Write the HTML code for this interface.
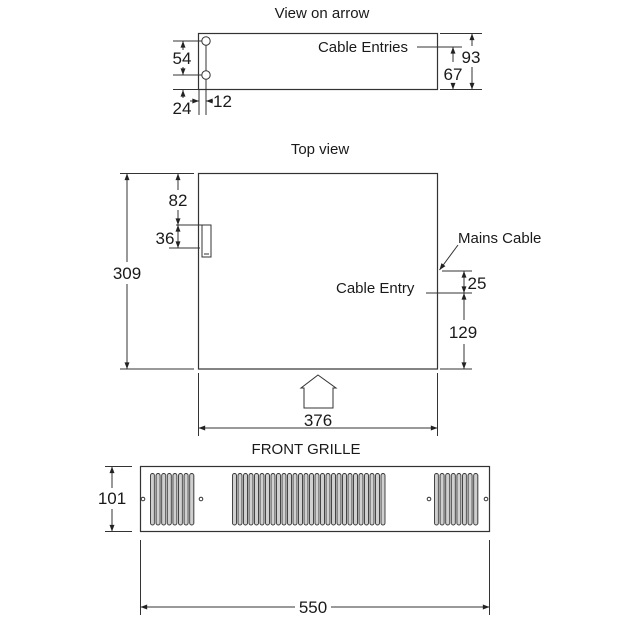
<!DOCTYPE html>
<html>
<head>
<meta charset="utf-8">
<style>
  html,body{margin:0;padding:0;background:#fff;}
  svg{display:block;}
  text{font-family:"Liberation Sans",Arial,sans-serif;fill:#1a1a1a;}
  .lbl{font-size:15px;}
  .num{font-size:17px;}
</style>
</head>
<body>
<svg width="643" height="643" viewBox="0 0 643 643" xmlns="http://www.w3.org/2000/svg">
  <defs>
    <marker id="ae" viewBox="0 0 8 6" refX="8" refY="3" markerWidth="7" markerHeight="5" markerUnits="userSpaceOnUse" orient="auto">
      <path d="M0,0 L8,3 L0,6 z" fill="#222"/>
    </marker>
    <pattern id="slotA" patternUnits="userSpaceOnUse" x="150" y="473" width="5.6" height="53">
      <rect x="0.5" y="0.5" width="4" height="51.5" rx="2" fill="#d0d0d0" stroke="#333" stroke-width="0.9"/>
    </pattern>
    <pattern id="slotB" patternUnits="userSpaceOnUse" x="232" y="473" width="5.5" height="53">
      <rect x="0.5" y="0.5" width="4" height="51.5" rx="2" fill="#d0d0d0" stroke="#333" stroke-width="0.9"/>
    </pattern>
    <pattern id="slotC" patternUnits="userSpaceOnUse" x="434" y="473" width="5.6" height="53">
      <rect x="0.5" y="0.5" width="4" height="51.5" rx="2" fill="#d0d0d0" stroke="#333" stroke-width="0.9"/>
    </pattern>
  </defs>
  <rect width="643" height="643" fill="#fff"/>

  <g stroke="#333" stroke-width="1" fill="none">
    <!-- View on arrow -->
    <rect x="198.5" y="33.5" width="239" height="56" stroke-width="1.2"/>
    <circle cx="206" cy="41" r="4.2"/>
    <circle cx="206" cy="75" r="4.2"/>
    <line x1="206" y1="45" x2="206" y2="71"/>
    <line x1="206" y1="79" x2="206" y2="115"/>
    <line x1="199" y1="90" x2="199" y2="115"/>
    <line x1="173" y1="41" x2="202" y2="41"/>
    <line x1="173" y1="75" x2="202" y2="75"/>
    <line x1="183" y1="50" x2="183" y2="41" marker-end="url(#ae)"/>
    <line x1="183" y1="67" x2="183" y2="75" marker-end="url(#ae)"/>
    <line x1="173" y1="89.5" x2="198" y2="89.5"/>
    <line x1="183" y1="98" x2="183" y2="90" marker-end="url(#ae)"/>
    <line x1="190" y1="101" x2="199" y2="101" marker-end="url(#ae)"/>
    <line x1="213" y1="101" x2="206" y2="101" marker-end="url(#ae)"/>
    <line x1="417" y1="47" x2="462" y2="47"/>
    <line x1="440" y1="33.5" x2="482" y2="33.5"/>
    <line x1="440" y1="89.5" x2="482" y2="89.5"/>
    <line x1="472" y1="46" x2="472" y2="33.5" marker-end="url(#ae)"/>
    <line x1="472" y1="67" x2="472" y2="89.5" marker-end="url(#ae)"/>
    <line x1="453" y1="62" x2="453" y2="47" marker-end="url(#ae)"/>
    <line x1="453" y1="83" x2="453" y2="89.5" marker-end="url(#ae)"/>

    <!-- Top view -->
    <rect x="198.5" y="173.5" width="239" height="195.5" stroke-width="1.2"/>
    <line x1="120" y1="173.5" x2="194" y2="173.5"/>
    <line x1="120" y1="369" x2="194" y2="369"/>
    <line x1="127" y1="262" x2="127" y2="173.5" marker-end="url(#ae)"/>
    <line x1="127" y1="284" x2="127" y2="369" marker-end="url(#ae)"/>
    <line x1="178" y1="190" x2="178" y2="173.5" marker-end="url(#ae)"/>
    <line x1="178" y1="210" x2="178" y2="225" marker-end="url(#ae)"/>
    <line x1="176" y1="225" x2="211" y2="225"/>
    <line x1="169" y1="248" x2="200" y2="248"/>
    <line x1="178" y1="236" x2="178" y2="225" marker-end="url(#ae)"/>
    <line x1="178" y1="236" x2="178" y2="248" marker-end="url(#ae)"/>
    <rect x="202" y="225" width="9" height="32"/>
    <path d="M204 254 L209 254"/>
    <line x1="458" y1="245" x2="439.5" y2="270" marker-end="url(#ae)"/>
    <line x1="442" y1="271" x2="472" y2="271"/>
    <line x1="426" y1="293" x2="472" y2="293"/>
    <line x1="440" y1="369" x2="472" y2="369"/>
    <line x1="464" y1="282" x2="464" y2="271" marker-end="url(#ae)"/>
    <line x1="464" y1="282" x2="464" y2="293" marker-end="url(#ae)"/>
    <line x1="464" y1="320" x2="464" y2="293" marker-end="url(#ae)"/>
    <line x1="464" y1="344" x2="464" y2="369" marker-end="url(#ae)"/>
    <line x1="198.5" y1="373" x2="198.5" y2="436"/>
    <line x1="437.5" y1="373" x2="437.5" y2="436"/>
    <line x1="300" y1="428" x2="198.5" y2="428" marker-end="url(#ae)"/>
    <line x1="300" y1="428" x2="437.5" y2="428" marker-end="url(#ae)"/>
    <path d="M318 375 L336 388 L333 388 L333 408 L304 408 L304 388 L301 388 Z"/>

    <!-- Front grille -->
    <rect x="140.5" y="466.5" width="349" height="65" stroke-width="1.2"/>
    <circle cx="143" cy="499" r="1.8"/>
    <circle cx="201" cy="499" r="1.8"/>
    <circle cx="429" cy="499" r="1.8"/>
    <circle cx="486" cy="499" r="1.8"/>
    <line x1="105" y1="466.5" x2="132" y2="466.5"/>
    <line x1="105" y1="531.5" x2="132" y2="531.5"/>
    <line x1="112" y1="488" x2="112" y2="466.5" marker-end="url(#ae)"/>
    <line x1="112" y1="509" x2="112" y2="531.5" marker-end="url(#ae)"/>
    <line x1="140.5" y1="540" x2="140.5" y2="615"/>
    <line x1="489.5" y1="540" x2="489.5" y2="615"/>
    <line x1="295" y1="607" x2="140.5" y2="607" marker-end="url(#ae)"/>
    <line x1="331" y1="607" x2="489.5" y2="607" marker-end="url(#ae)"/>
  </g>

  <!-- grille slots -->
  <rect x="150" y="473" width="44.8" height="53" fill="url(#slotA)"/>
  <rect x="232" y="473" width="154" height="53" fill="url(#slotB)"/>
  <rect x="434" y="473" width="44.8" height="53" fill="url(#slotC)"/>

  <!-- texts -->
  <text class="lbl" x="322" y="18" text-anchor="middle">View on arrow</text>
  <text class="lbl" x="408" y="52" text-anchor="end">Cable Entries</text>
  <text class="num" x="182" y="64" text-anchor="middle">54</text>
  <text class="num" x="182" y="114" text-anchor="middle">24</text>
  <text class="num" x="213" y="107">12</text>
  <text class="num" x="471" y="63" text-anchor="middle">93</text>
  <text class="num" x="453" y="80" text-anchor="middle">67</text>

  <text class="lbl" x="320" y="154" text-anchor="middle">Top view</text>
  <text class="num" x="178" y="206" text-anchor="middle">82</text>
  <text class="num" x="165" y="244" text-anchor="middle">36</text>
  <text class="num" x="127" y="279" text-anchor="middle">309</text>
  <text class="lbl" x="458" y="243">Mains Cable</text>
  <text class="lbl" x="336" y="293">Cable Entry</text>
  <text class="num" x="477" y="289" text-anchor="middle">25</text>
  <text class="num" x="463" y="338" text-anchor="middle">129</text>
  <text class="num" x="318" y="426" text-anchor="middle">376</text>
  <text class="lbl" x="306" y="454" text-anchor="middle">FRONT GRILLE</text>

  <text class="num" x="112" y="504" text-anchor="middle">101</text>
  <text class="num" x="313" y="613" text-anchor="middle">550</text>
</svg>
</body>
</html>
